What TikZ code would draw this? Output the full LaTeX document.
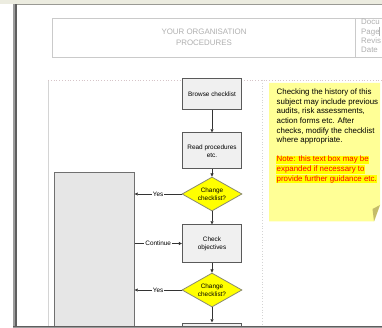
\documentclass[tikz,border=0pt]{standalone}
\usepackage{fontspec}
\setmainfont{Liberation Sans}
\usetikzlibrary{arrows.meta,shapes.geometric}
\definecolor{topbar}{HTML}{ECECE0}
\definecolor{topline}{HTML}{9A9A94}
\definecolor{barlight}{HTML}{9C9C9C}
\definecolor{bardark}{HTML}{5E5E5E}
\definecolor{hdrline}{HTML}{CACACA}
\definecolor{hdrtext}{HTML}{B0B0B0}
\definecolor{arealine}{HTML}{D4D4D4}
\definecolor{areadot}{HTML}{D6C4C8}
\definecolor{lanefill}{HTML}{E6E6E6}
\definecolor{laneline}{HTML}{707070}
\definecolor{boxfill}{HTML}{F0F0F0}
\definecolor{boxline}{HTML}{5A5A5A}
\definecolor{dline}{HTML}{8A8A70}
\definecolor{decfill}{HTML}{FFFF00}
\definecolor{arrowc}{HTML}{333333}
\definecolor{notefill}{HTML}{FFFF96}
\definecolor{foldc}{HTML}{C4BC6A}
\definecolor{hilite}{HTML}{FFFF00}
\definecolor{notered}{HTML}{FF0000}
\tikzset{
  procbox/.style={draw=boxline, fill=boxfill, line width=1pt, minimum width=59pt,
    inner sep=0pt, align=center, font=\fontsize{6.4}{8}\selectfont},
  decision/.style={diamond, draw=dline, fill=decfill, line width=0.8pt,
    minimum width=60pt, minimum height=34pt, aspect=1.76, inner sep=0pt,
    align=center, font=\fontsize{6.4}{8}\selectfont},
  flow/.style={draw=arrowc, line width=0.7pt, -{Triangle[length=3.2pt,width=3pt]}},
  lbl/.style={fill=white, inner sep=1pt, font=\fontsize{6.4}{7}\selectfont},
  notetxt/.style={anchor=base west, inner sep=0pt, font=\fontsize{7.9}{9.6}\selectfont},
  redtxt/.style={anchor=base west, inner sep=0.5pt, text=notered, fill=hilite,
    font=\fontsize{7.9}{9.6}\selectfont},
  hdrtxt/.style={text=hdrtext, inner sep=0pt, font=\fontsize{7.9}{10.5}\selectfont}
}
\begin{document}
\begin{tikzpicture}[x=1pt,y=-1pt]
\useasboundingbox (0,0) rectangle (382,328);
\begin{scope}
\clip (0,0) rectangle (382,328);
\fill[white] (0,0) rectangle (382,328);
% window frame
\fill[topbar] (0,0) rectangle (382,4);
\draw[topline, line width=1pt] (13,4.5) -- (382,4.5);
% header table
\draw[hdrline, line width=0.8pt] (52,18) rectangle (392,57);
\draw[hdrline, line width=0.8pt] (355,18) -- (355,57);
\node[hdrtxt, align=center] (org) at (204,37.3) {YOUR ORGANISATION\\PROCEDURES};
\node[hdrtxt, anchor=base west] (doc) at (361,25) {Docu};
\node[hdrtxt, anchor=base west] (pg) at (361,34.5) {Page};
\node[hdrtxt, anchor=base west] (rev) at (361,44) {Revis};
\node[hdrtxt, anchor=base west] (dt) at (361,53) {Date};
\draw[hdrtext, line width=0.8pt] (379.5,27) -- (379.5,36);
% process area
\draw[arealine, line width=0.8pt] (48,80) -- (48,330);
\draw[areadot, line width=0.8pt, dotted] (48,80) -- (382,80);
\draw[arealine, line width=0.8pt, dotted] (262,80) -- (262,330);
% left lane
\node[draw=laneline, fill=lanefill, line width=1pt, minimum width=80pt,
      minimum height=167pt, inner sep=0pt] (lane) at (94,256.5) {};
% flow nodes
\node[procbox, minimum height=31pt] (browse) at (212,94.5) {Browse checklist};
\node[procbox, minimum height=36pt] (read) at (212,151) {Read procedures\\etc.};
\node[decision] (d1) at (212,194) {Change\\checklist?};
\node[procbox, minimum height=37pt] (check) at (212,243.5) {Check\\objectives};
\node[decision] (d2) at (212,290) {Change\\checklist?};
\node[procbox, minimum height=34pt] (next) at (212,340) {};
% connectors
\draw[flow] (browse) -- (read);
\draw[flow] (read) -- (d1);
\draw[flow] (d1) -- (check);
\draw[flow] (check) -- (d2);
\draw[flow] (d2) -- (next);
\draw[flow] (d1.west) -- (d1.west -| lane.east) node[midway, lbl] (yes1) {Yes};
\draw[flow] (check.west -| lane.east) -- (check.west) node[midway, lbl] (cont) {Continue};
\draw[flow] (d2.west) -- (d2.west -| lane.east) node[midway, lbl] (yes2) {Yes};
% note
\fill[notefill] (269,83) -- (380,83) -- (380,205) -- (374,221.5) -- (269,221.5) -- cycle;
\fill[foldc] (380,205) -- (374,221.5) -- (372.5,209) -- cycle;
\node[notetxt] (n1) at (276.5,94.7) {Checking the history of this};
\node[notetxt] (n2) at (276.5,104.3) {subject may include previous};
\node[notetxt] (n3) at (276.5,113.9) {audits, risk assessments,};
\node[notetxt] (n4) at (276.5,123.5) {action forms etc. After};
\node[notetxt] (n5) at (276.5,133.1) {checks, modify the checklist};
\node[notetxt] (n6) at (276.5,142.7) {where appropriate.};
\node[redtxt] (r1) at (276,161.9) {Note: this text box may be};
\node[redtxt] (r2) at (276,171.5) {expanded if necessary to};
\node[redtxt] (r3) at (276,181.1) {provide further guidance etc.};
% frame bars on top
\fill[barlight] (13,4) rectangle (15.3,328);
\fill[bardark] (15.3,4) rectangle (17,328);
\fill[barlight] (13,325.5) rectangle (382,328);
\draw[bardark, line width=0.6pt] (13,325.8) -- (382,325.8);
\end{scope}
\end{tikzpicture}
\end{document}
